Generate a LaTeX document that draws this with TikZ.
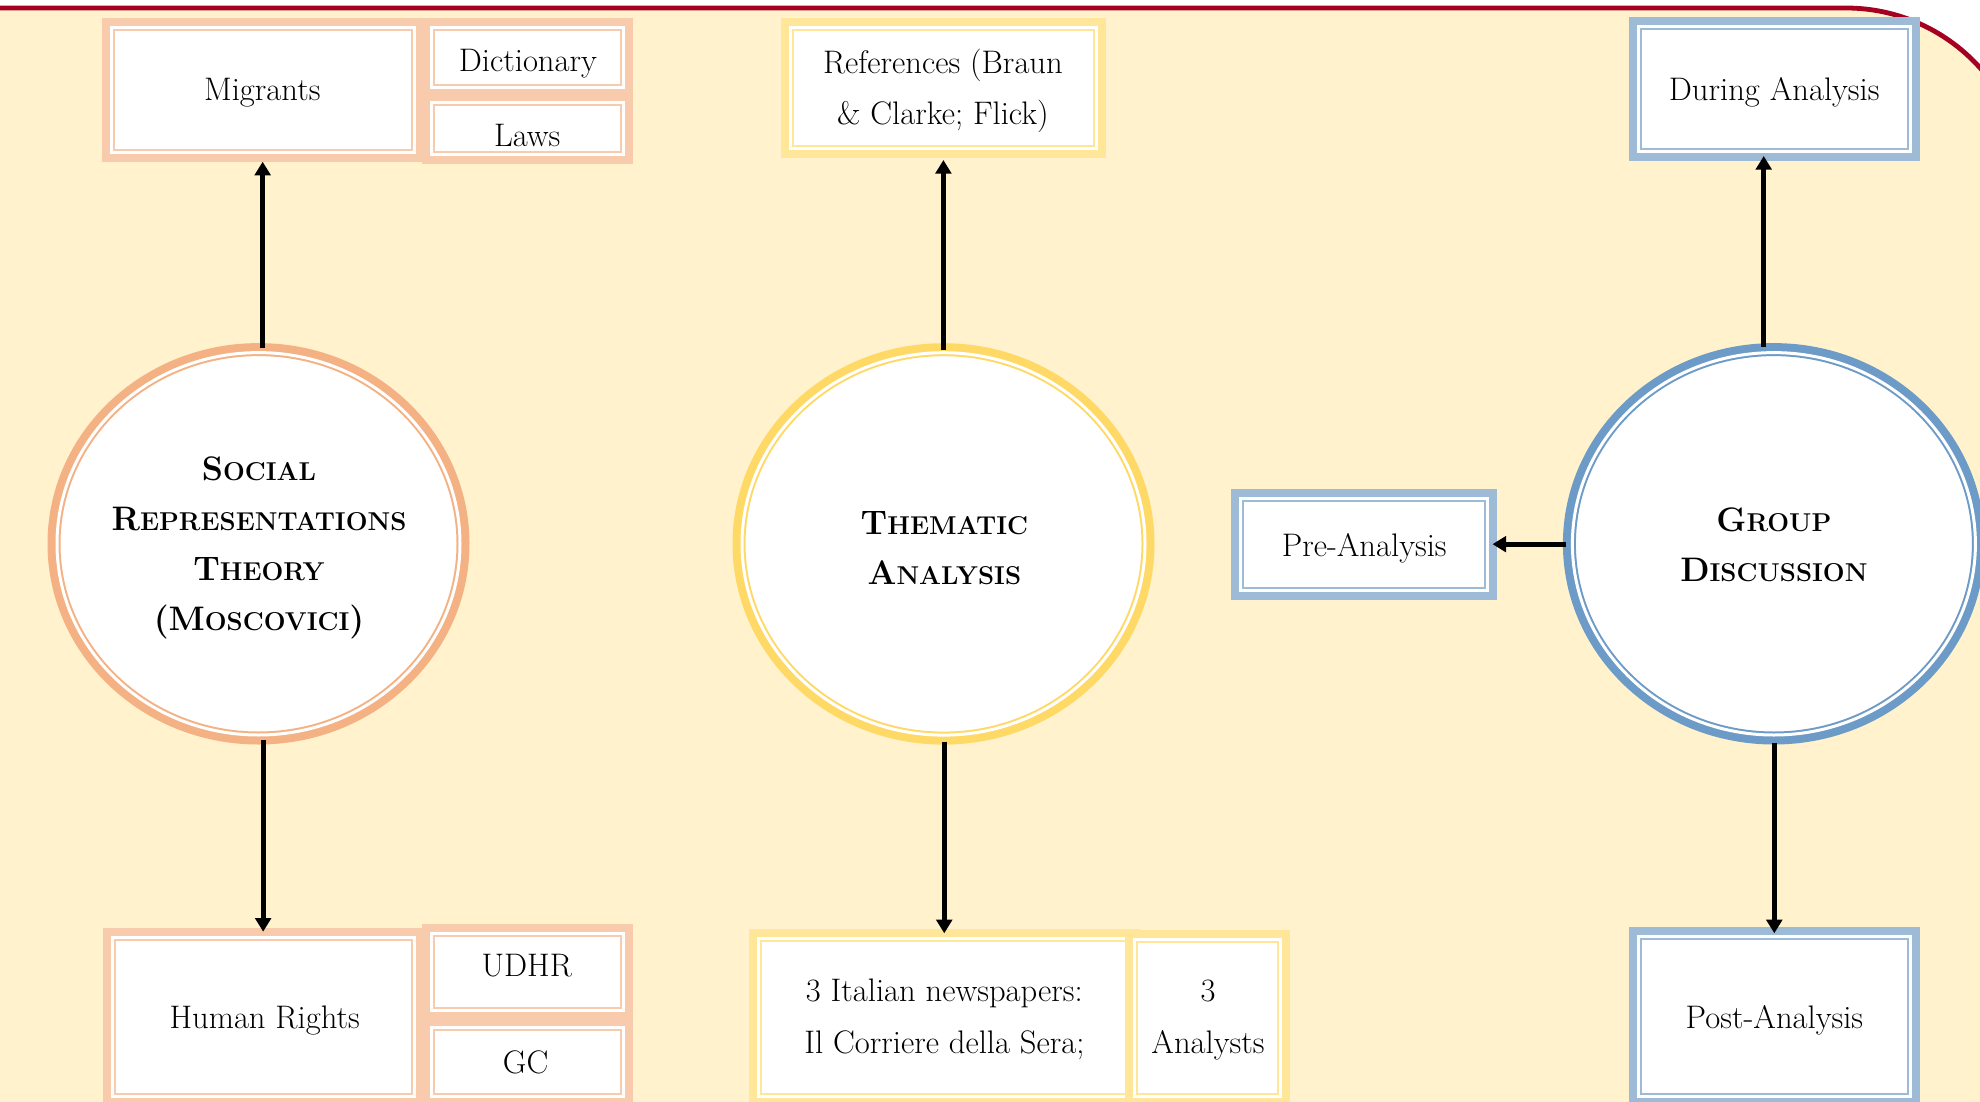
\documentclass[tikz,border=0pt]{standalone}
\usetikzlibrary{arrows.meta,calc,shapes.geometric}
\definecolor{cream}{HTML}{FFF2CC}
\definecolor{framered}{HTML}{A50021}
\definecolor{orC}{HTML}{F4B183}
\definecolor{orB}{HTML}{F8CBAD}
\definecolor{yeC}{HTML}{FFD966}
\definecolor{yeB}{HTML}{FFE699}
\definecolor{blC}{HTML}{6D9BC7}
\definecolor{blB}{HTML}{9DBBD7}
\newcommand\fsc[2]{#1{\fontsize{12.9}{25}\selectfont #2}}
\begin{document}
\begin{tikzpicture}[x=0.5pt,y=-0.5pt,
  frm/.style={fill=white, draw=#1, line width=3.5pt, outer sep=0pt, inner sep=0pt,
    preaction={draw=#1, line width=9.5pt},
    postaction={draw=white, line width=1.5pt}},
  circ/.style={frm=#1, ellipse, minimum width=201.5pt, minimum height=191.2pt},
  box/.style={frm=#1, rectangle},
  txt/.style={anchor=base, align=center, inner sep=0pt, font=\fontsize{16.3}{25.8}\selectfont},
  ctxt/.style={anchor=base, align=center, inner sep=0pt, font=\fontsize{17}{25}\selectfont\bfseries},
  arr/.style={line width=2.5pt, -{Triangle[width=7.8pt,length=6.8pt]}}
]
\useasboundingbox (0,0) rectangle (1980,1102);
\clip (0,0) rectangle (1980,1102);
\fill[white] (0,0) rectangle (1980,1102);
\draw[framered, line width=2.4pt, fill=cream, rounded corners=90pt] (-200,8) rectangle (2026,1400);

% circles
\node[circ=orC] (srt) at (258.5,543.8) {};
\node[circ=yeC] (ta) at (943.5,543.9) {};
\node[circ=blC] (gd) at (1773.9,543.8) {};

% left column boxes
\node[box=orB, minimum width=151.35pt, minimum height=62.25pt] (migr) at (262.65,89.75) {};
\node[box=orB, minimum width=96.25pt, minimum height=29.9pt] (dict) at (527.25,57.4) {};
\node[box=orB, minimum width=96.25pt, minimum height=25.65pt] (laws) at (527.25,128.65) {};
\node[box=orB, minimum width=150.85pt, minimum height=79.5pt] (hr) at (263.15,1016.5) {};
\node[box=orB, minimum width=96.25pt, minimum height=38.35pt] (udhr) at (527.25,971.65) {};
\node[box=orB, minimum width=96.25pt, minimum height=34.15pt] (gc) at (527.25,1061.85) {};

% middle column boxes
\node[box=yeB, minimum width=152.8pt, minimum height=60.4pt] (ref) at (943.4,87.9) {};
\node[box=yeB, minimum width=185.75pt, minimum height=79pt] (np) at (944.25,1017) {};
\node[box=yeB, minimum width=72.75pt, minimum height=78.25pt] (an) at (1207.25,1017.75) {};

% right column boxes
\node[box=blB, minimum width=135.7pt, minimum height=62.35pt] (da) at (1774.3,89.35) {};
\node[box=blB, minimum width=123.75pt, minimum height=45.85pt] (pa) at (1364.05,544.15) {};
\node[box=blB, minimum width=135.7pt, minimum height=79.9pt] (po) at (1774.3,1016.1) {};

% arrows
\draw[arr] ($(srt.north -| migr.south)+(0,-4.5)$) -- ($(migr.south)+(0,9.7)$);
\draw[arr] ($(srt.south -| hr.north)+(0,5)$) -- ($(hr.north)+(0,-5.3)$);
\draw[arr] ($(ta.north -| ref.south)+(0,-2.6)$) -- ($(ref.south)+(0,11.7)$);
\draw[arr] ($(ta.south -| np.north)+(0,6.6)$) -- ($(np.north)+(0,-4.7)$);
\draw[arr] ($(gd.north -| da.south)+(-10.6,-6)$) -- ($(da.south)+(-10.6,4.3)$);
\draw[arr] ($(gd.south -| po.north)+(0,7.7)$) -- ($(po.north)+(0,-2.9)$);
\draw[arr] ($(gd.west |- pa.east)+(-6.7,0)$) -- ($(pa.east)+(4.7,0)$);

% texts (multi-line nodes are anchored at the baseline of their last line)
\node[ctxt] (srtT) at (259,630) {\fsc{S}{OCIAL}\\\fsc{R}{EPRESENTATIONS}\\\fsc{T}{HEORY}\\\fsc{(M}{OSCOVICI})};
\node[ctxt] (taT) at (944.4,584) {\fsc{T}{HEMATIC}\\\fsc{A}{NALYSIS}};
\node[ctxt] (gdT) at (1773.9,581) {\fsc{G}{ROUP}\\\fsc{D}{ISCUSSION}};

\node[txt] (migrT) at (262.3,100.5) {Migrants};
\node[txt] (dictT) at (527.9,71.7) {Dictionary};
\node[txt] (lawsT) at (527.2,146.7) {Laws};
\node[txt] (hrT) at (264.7,1028.3) {Human Rights};
\node[txt] (udhrT) at (526.8,976.7) {UDHR};
\node[txt] (gcT) at (525.7,1073.3) {GC};
\node[txt] (refT) at (942.9,125) {References (Braun\\\& Clarke; Flick)};
\node[txt] (npT) at (944.4,1053.3) {3 Italian newspapers:\\Il Corriere della Sera;};
\node[txt] (anT) at (1208,1053.3) {3\\Analysts};
\node[txt] (daT) at (1774.2,101) {During Analysis};
\node[txt] (paT) at (1364.2,556) {Pre-Analysis};
\node[txt] (poT) at (1774.4,1028.3) {Post-Analysis};
\end{tikzpicture}
\end{document}
